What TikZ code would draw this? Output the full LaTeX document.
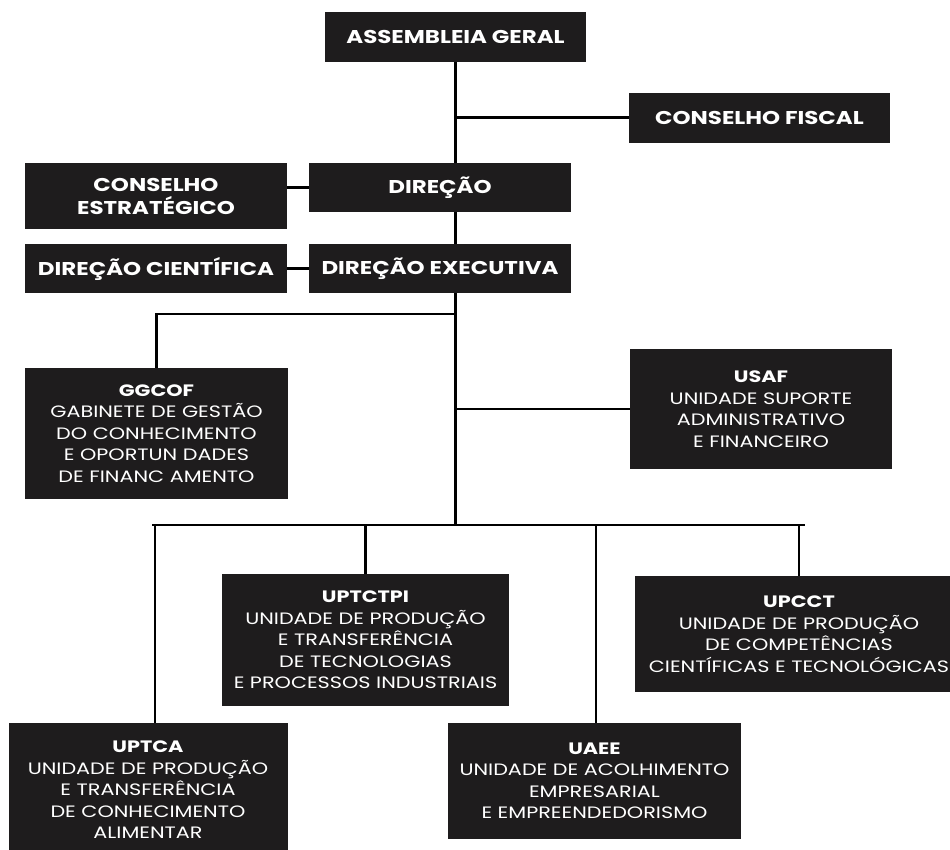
\documentclass[tikz,border=0pt]{standalone}
\usepackage{fontspec}
\setmainfont{Poppins}
\newfontfamily\orgfont[FakeStretch=1.26]{Poppins}
\newfontfamily\topfont[FakeStretch=1.24]{Poppins}
\definecolor{boxfill}{HTML}{1E1C1D}
\tikzset{
  orgbox/.style={draw=none, fill=boxfill, text=white, inner sep=0pt, align=center,
    font=\orgfont\fontsize{16.5}{21.5}\selectfont},
  topbox/.style={orgbox, font=\topfont\bfseries\fontsize{18.5}{23}\selectfont},
  link/.style={draw=black, line width=2.6pt}
}
\begin{document}
\begin{tikzpicture}[x=1pt,y=-1pt]
\useasboundingbox (0,0) rectangle (950,849);
\clip (0,0) rectangle (950,849);
\fill[white] (0,0) rectangle (950,849);
% top boxes
\node[topbox, minimum width=261pt, minimum height=50pt] (ag) at (455.5,37) {ASSEMBLEIA GERAL};
\node[topbox, minimum width=261pt, minimum height=50pt] (cf) at (759.5,117.5) {CONSELHO FISCAL};
\node[topbox, minimum width=262pt, minimum height=49pt] (dir) at (440,187.5) {DIREÇÃO};
\node[topbox, minimum width=262pt, minimum height=66pt] (ce) at (156,196) {CONSELHO\\ESTRATÉGICO};
\node[topbox, minimum width=262pt, minimum height=49pt] (de) at (440,268.5) {DIREÇÃO EXECUTIVA};
\node[topbox, minimum width=262pt, minimum height=49pt] (dc) at (156,268.5) {DIREÇÃO CIENTÍFICA};
% unit boxes
\node[orgbox, minimum width=263pt, minimum height=131pt] (ggcof) at (156.5,433.5)
  {\textbf{GGCOF}\\GABINETE DE GESTÃO\\DO CONHECIMENTO\\E OPORTUN DADES\\DE FINANC AMENTO};
\node[orgbox, minimum width=262pt, minimum height=120pt] (usaf) at (761,409)
  {\textbf{USAF}\\UNIDADE SUPORTE\\ADMINISTRATIVO\\E FINANCEIRO};
\node[orgbox, minimum width=287pt, minimum height=132pt] (uptctpi) at (365.5,640)
  {\textbf{UPTCTPI}\\UNIDADE DE PRODUÇÃO\\E TRANSFERÊNCIA\\DE TECNOLOGIAS\\E PROCESSOS INDUSTRIAIS};
\node[orgbox, minimum width=328pt, minimum height=116pt] (upcct) at (799,634)
  {\textbf{UPCCT}\\UNIDADE DE PRODUÇÃO\\DE COMPETÊNCIAS\\CIENTÍFICAS E TECNOLÓGICAS};
\node[orgbox, minimum width=279pt, minimum height=134pt] (uptca) at (148,790)
  {\textbf{UPTCA}\\UNIDADE DE PRODUÇÃO\\E TRANSFERÊNCIA\\DE CONHECIMENTO\\ALIMENTAR};
\node[orgbox, minimum width=293pt, minimum height=116pt] (uaee) at (594.5,781)
  {\textbf{UAEE}\\UNIDADE DE ACOLHIMENTO\\EMPRESARIAL\\E EMPREENDEDORISMO};
% junction coordinates
\coordinate (jg) at (455.5,314);
\coordinate (ju) at (455.5,409);
\coordinate (jb) at (455.5,525);
\coordinate (bl) at (152,525);
\coordinate (br) at (805,525);
\coordinate (b1) at (155,525);
\coordinate (b2) at (365.5,525);
\coordinate (b3) at (596,525);
\coordinate (b4) at (799,525);
% connectors
\draw[link] (ag.south) -- (ag.south |- dir.north);
\draw[link] (ag.south |- cf.west) -- (cf.west);
\draw[link] (dir.west) -- (dir.west -| ce.east);
\draw[link] (ag.south |- dir.south) -- (ag.south |- de.north);
\draw[link] (de.west) -- (dc.east);
\draw[link] (ag.south |- de.south) -- (jb);
\draw[link] (jg) -| (ggcof.north);
\draw[link] (ju) -- (usaf.west);
\draw[link] (bl) -- (br);
\draw[link] (b1) -- (b1 |- uptca.north);
\draw[link] (b2) -- (uptctpi.north);
\draw[link] (b3) -- (b3 |- uaee.north);
\draw[link] (b4) -- (upcct.north);
\end{tikzpicture}
\end{document}
